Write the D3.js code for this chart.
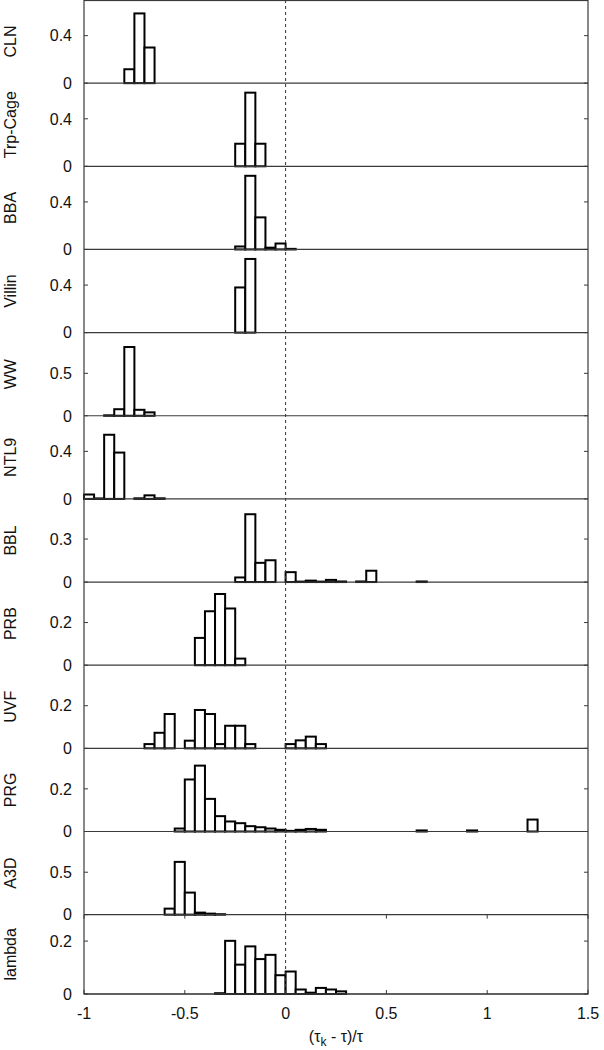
<!DOCTYPE html>
<html>
<head>
<meta charset="utf-8">
<script src="https://cdn.jsdelivr.net/npm/d3@7"></script>
<style>
  html, body { margin: 0; padding: 0; background: #fff; }
  svg { display: block; }
  text { font-family: "Liberation Sans", Arial, Helvetica, sans-serif; fill: #111; }
</style>
</head>
<body>
<svg id="chart" width="604" height="1050"></svg>
<script>
// ---- data ----
const panelNames = ["CLN", "Trp-Cage", "BBA", "Villin", "WW", "NTL9", "BBL", "PRB", "UVF", "PRG", "A3D", "lambda"];
const yMax = [0.7, 0.7, 0.7, 0.7, 0.98, 0.7, 0.58, 0.39, 0.39, 0.39, 0.98, 0.3];
const yTicks = [0.4, 0.4, 0.4, 0.4, 0.5, 0.4, 0.3, 0.2, 0.2, 0.2, 0.5, 0.2];
const binWidth = 0.05;
const xTicks = [-1, -0.5, 0, 0.5, 1, 1.5];
const xTickLabels = ["-1", "-0.5", "0", "0.5", "1", "1.5"];

const clnBins = [-0.8, -0.75, -0.7];
const clnVals = [0.117, 0.587, 0.30];
const trpBins = [-0.25, -0.2, -0.15];
const trpVals = [0.19, 0.62, 0.19];
const bbaBins = [-0.25, -0.2, -0.15, -0.1, -0.05, 0];
const bbaVals = [0.025, 0.62, 0.27, 0.015, 0.05, 0.005];
const villinBins = [-0.25, -0.2];
const villinVals = [0.38, 0.62];
const wwBins = [-0.9, -0.85, -0.8, -0.75, -0.7];
const wwVals = [0.005, 0.077, 0.81, 0.07, 0.04];
const ntl9Bins = [-1, -0.95, -0.9, -0.85, -0.75, -0.7, -0.65];
const ntl9Vals = [0.037, 0.004, 0.54, 0.39, 0.005, 0.03, 0.005];
const bblBins = [-0.25, -0.2, -0.15, -0.1, 0, 0.05, 0.1, 0.15, 0.2, 0.25, 0.35, 0.4, 0.65];
const bblVals = [0.032, 0.473, 0.134, 0.152, 0.069, 0.003, 0.01, 0.003, 0.015, 0.004, 0.004, 0.079, 0.004];
const prbBins = [-0.45, -0.4, -0.35, -0.3, -0.25];
const prbVals = [0.128, 0.253, 0.334, 0.266, 0.031];
const uvfBins = [-0.7, -0.65, -0.6, -0.5, -0.45, -0.4, -0.35, -0.3, -0.25, -0.2, 0, 0.05, 0.1, 0.15];
const uvfVals = [0.02, 0.073, 0.161, 0.036, 0.18, 0.161, 0.02, 0.106, 0.106, 0.02, 0.02, 0.0375, 0.055, 0.02];
const prgBins = [-0.55, -0.5, -0.45, -0.4, -0.35, -0.3, -0.25, -0.2, -0.15, -0.1, -0.05, 0, 0.05, 0.1, 0.15, 0.65, 0.9, 1.2];
const prgVals = [0.014, 0.244, 0.309, 0.153, 0.072, 0.047, 0.039, 0.025, 0.02, 0.014, 0.008, 0.003, 0.008, 0.012, 0.008, 0.005, 0.005, 0.056];
const a3dBins = [-0.6, -0.55, -0.5, -0.45, -0.4, -0.35];
const a3dVals = [0.071, 0.622, 0.26, 0.024, 0.012, 0.005];
const lambdaBins = [-0.35, -0.3, -0.25, -0.2, -0.15, -0.1, -0.05, 0, 0.05, 0.1, 0.15, 0.2, 0.25];
const lambdaVals = [0.003, 0.201, 0.111, 0.18, 0.132, 0.148, 0.071, 0.085, 0.017, 0.005, 0.023, 0.017, 0.01];

const allBins = [clnBins, trpBins, bbaBins, villinBins, wwBins, ntl9Bins, bblBins, prbBins, uvfBins, prgBins, a3dBins, lambdaBins];
const allVals = [clnVals, trpVals, bbaVals, villinVals, wwVals, ntl9Vals, bblVals, prbVals, uvfVals, prgVals, a3dVals, lambdaVals];

// ---- layout ----
const svg = d3.select("#chart");
const left = 84, right = 588;
const plotTop = 0, plotBottom = 994;
const panelH = 83.15;
const axisColor = "#3a3a3a";

const x = d3.scaleLinear().domain([-1, 1.5]).range([left, right]);

svg.append("rect").attr("width", 604).attr("height", 1050).attr("fill", "#fff");

const tickLen = 4;

panelNames.forEach((name, i) => {
  const top = i * panelH;
  const bottom = (i === panelNames.length - 1) ? plotBottom : (i + 1) * panelH;
  const y = d3.scaleLinear().domain([0, yMax[i]]).range([bottom, top]);
  const g = svg.append("g");

  // bars
  const data = allBins[i].map((b, k) => ({ b: b, v: allVals[i][k] }));
  g.selectAll("rect.bar").data(data).enter().append("rect")
    .attr("class", "bar")
    .attr("x", d => x(d.b))
    .attr("width", d => x(d.b + binWidth) - x(d.b))
    .attr("y", d => y(d.v))
    .attr("height", d => y(0) - y(d.v))
    .attr("fill", "#fff")
    .attr("stroke", "#000")
    .attr("stroke-width", 2);

  // zero line / panel separator
  g.append("line")
    .attr("x1", left).attr("x2", right)
    .attr("y1", y(0)).attr("y2", y(0))
    .attr("stroke", axisColor).attr("stroke-width", 1.2);

  // y ticks (left and right, inward)
  const ticks = [0, yTicks[i]];
  ticks.forEach(t => {
    g.append("line").attr("x1", left).attr("x2", left + tickLen)
      .attr("y1", y(t)).attr("y2", y(t)).attr("stroke", axisColor).attr("stroke-width", 1);
    g.append("line").attr("x1", right).attr("x2", right - tickLen)
      .attr("y1", y(t)).attr("y2", y(t)).attr("stroke", axisColor).attr("stroke-width", 1);
    g.append("text")
      .attr("x", 72).attr("y", y(t))
      .attr("dy", "0.36em")
      .attr("text-anchor", "end")
      .attr("font-size", 16)
      .text(d3.format("~g")(t));
  });

  // panel label
  g.append("text")
    .attr("transform", `translate(16,${(top + bottom) / 2}) rotate(-90)`)
    .attr("text-anchor", "middle")
    .attr("font-size", 16)
    .text(name);

  // x ticks for bottom panel (mirror at top)
  if (i === panelNames.length - 1) {
    xTicks.forEach(t => {
      g.append("line").attr("x1", x(t)).attr("x2", x(t))
        .attr("y1", bottom).attr("y2", bottom - tickLen).attr("stroke", axisColor);
      g.append("line").attr("x1", x(t)).attr("x2", x(t))
        .attr("y1", top).attr("y2", top + tickLen).attr("stroke", axisColor);
    });
  }
});

// dashed zero line
svg.append("line")
  .attr("x1", x(0)).attr("x2", x(0))
  .attr("y1", plotTop).attr("y2", plotBottom)
  .attr("stroke", "#333").attr("stroke-width", 1)
  .attr("stroke-dasharray", "3,3");

// outer border
svg.append("rect")
  .attr("x", left).attr("y", plotTop + 0.5)
  .attr("width", right - left).attr("height", plotBottom - plotTop - 0.5)
  .attr("fill", "none").attr("stroke", axisColor).attr("stroke-width", 1.2);

// x tick labels
svg.append("g").selectAll("text").data(xTicks).enter().append("text")
  .attr("x", d => x(d))
  .attr("y", 1019)
  .attr("text-anchor", "middle")
  .attr("font-size", 16)
  .text((d, k) => xTickLabels[k]);

// x axis label
const xl = svg.append("text")
  .attr("x", (left + right) / 2)
  .attr("y", 1042)
  .attr("text-anchor", "middle")
  .attr("font-size", 16);
xl.append("tspan").text("(\u03C4");
xl.append("tspan").attr("font-size", 12).attr("dy", 4).text("k");
xl.append("tspan").attr("dy", -4).text(" - \u03C4)/\u03C4");
</script>
</body>
</html>
